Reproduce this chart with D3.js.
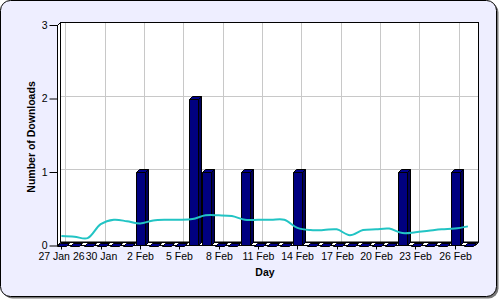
<!DOCTYPE html>
<html>
<head>
<meta charset="utf-8">
<script src="https://cdn.jsdelivr.net/npm/d3@7"></script>
<style>
  body { margin: 0; background: #fff; }
  svg text { font-family: "Liberation Sans", Arial, sans-serif; }
</style>
</head>
<body>
<div id="chart"></div>
<script>
// Daily values
const days = [
  "2026-01-27", "2026-01-28", "2026-01-29", "2026-01-30", "2026-01-31",
  "2026-02-01", "2026-02-02", "2026-02-03", "2026-02-04", "2026-02-05",
  "2026-02-06", "2026-02-07", "2026-02-08", "2026-02-09", "2026-02-10",
  "2026-02-11", "2026-02-12", "2026-02-13", "2026-02-14", "2026-02-15",
  "2026-02-16", "2026-02-17", "2026-02-18", "2026-02-19", "2026-02-20",
  "2026-02-21", "2026-02-22", "2026-02-23", "2026-02-24", "2026-02-25",
  "2026-02-26", "2026-02-27"
];
const downloads = [
  0, 0, 0, 0, 0, 0, 1, 0, 0, 0,
  2, 1, 0, 0, 1, 0, 0, 0, 1, 0,
  0, 0, 0, 0, 0, 0, 1, 0, 0, 0,
  1, 0
];
const trend = [
  0.13, 0.12, 0.10, 0.29, 0.35, 0.33, 0.30, 0.34, 0.35, 0.35,
  0.36, 0.41, 0.41, 0.40, 0.35, 0.35, 0.35, 0.35, 0.24, 0.21,
  0.21, 0.22, 0.14, 0.21, 0.22, 0.23, 0.17, 0.18, 0.20, 0.22,
  0.23, 0.26
];
const xTickDays = [
  "2026-01-27", "2026-01-30", "2026-02-02", "2026-02-05", "2026-02-08",
  "2026-02-11", "2026-02-14", "2026-02-17", "2026-02-20", "2026-02-23",
  "2026-02-26"
];
const xTickLabels = [
  "27 Jan 26", "30 Jan", "2 Feb", "5 Feb", "8 Feb", "11 Feb",
  "14 Feb", "17 Feb", "20 Feb", "23 Feb", "26 Feb"
];
const yTicks = [0, 1, 2, 3];

const parseDay = d3.timeParse("%Y-%m-%d");
const data = days.map((d, i) => ({ day: parseDay(d), n: downloads[i], avg: trend[i] }));

const W = 500, H = 300;
const depth = 3;     // 3D offset of the back wall
const barW = 9;
const pLeft = 57, pRight = 475, pTop = 25, pBottom = 245.5;

const svg = d3.select("#chart").append("svg")
  .attr("width", W)
  .attr("height", H);

// outer frame with shadow
svg.append("rect")
  .attr("x", 2.5).attr("y", 2.5)
  .attr("width", 496).attr("height", 296)
  .attr("rx", 10)
  .attr("fill", "#777");
svg.append("rect")
  .attr("x", 0.5).attr("y", 0.5)
  .attr("width", 496).attr("height", 296)
  .attr("rx", 10)
  .attr("fill", "#eeeeff")
  .attr("stroke", "#000");

let x = d3.scaleTime()
  .domain([new Date(2026, 0, 26, 16), new Date(2026, 1, 27, 13)])
  .range([pLeft, pRight]);
let y = d3.scaleLinear().domain([0, 3]).range([pBottom, pTop]);

// back wall
svg.append("rect")
  .attr("x", pLeft + depth + 0.5)
  .attr("y", pTop - depth)
  .attr("width", pRight - pLeft)
  .attr("height", pBottom - pTop)
  .attr("fill", "#fff");

// grid on back wall
let grid = svg.append("g").attr("stroke", "#c8c8c8").attr("stroke-width", 1);
xTickDays.forEach(d => {
  let gx = Math.round(x(parseDay(d))) + 4.5;
  grid.append("line")
    .attr("x1", gx).attr("x2", gx)
    .attr("y1", pTop - depth).attr("y2", pBottom - depth);
});
yTicks.slice(1, 3).forEach(v => {
  let gy = Math.round(y(v) - depth) + 0.5;
  grid.append("line")
    .attr("x1", pLeft + depth).attr("x2", pRight + depth)
    .attr("y1", gy).attr("y2", gy);
});

// wall outlines
let walls = svg.append("g").attr("stroke", "#000").attr("stroke-width", 1);
walls.append("rect")
  .attr("x", pLeft + depth + 0.5)
  .attr("y", pTop - depth + 0.5)
  .attr("width", pRight - pLeft)
  .attr("height", pBottom - pTop - 1)
  .attr("fill", "none");
// left side wall
walls.append("path")
  .attr("d", `M${pLeft + 0.5},${pTop + 0.5} L${pLeft + depth + 0.5},${pTop - depth + 0.5} L${pLeft + depth + 0.5},${pBottom - depth} L${pLeft + 0.5},${pBottom}Z`)
  .attr("fill", "#fff");
// floor
walls.append("path")
  .attr("d", `M${pLeft + 0.5},${pBottom} L${pRight + 0.5},${pBottom} L${pRight + depth + 0.5},${pBottom - depth} L${pLeft + depth + 0.5},${pBottom - depth}Z`)
  .attr("fill", "#fff");

// axes
let yAxis = svg.append("g")
  .attr("transform", "translate(" + (pLeft + 0.5) + ",0)")
  .call(d3.axisLeft(y).tickValues(yTicks).tickFormat(d3.format("d")).tickSize(8).tickPadding(2));
let xAxis = svg.append("g")
  .attr("transform", "translate(0," + pBottom + ")")
  .call(d3.axisBottom(x)
    .tickValues(xTickDays.map(parseDay))
    .tickFormat((d, i) => xTickLabels[i])
    .tickSize(4).tickPadding(3));
[yAxis, xAxis].forEach(a => {
  a.select(".domain").remove();
  a.selectAll("text").attr("font-size", "10.5px").attr("fill", "#000").attr("font-family", null);
  a.selectAll("line").attr("stroke", "#000");
});
xAxis.selectAll(".tick").attr("transform", d => "translate(" + (Math.round(x(d)) + 0.5) + ",0)");
svg.append("line")
  .attr("x1", pLeft + 0.5).attr("x2", pLeft + 0.5)
  .attr("y1", pTop).attr("y2", pBottom)
  .attr("stroke", "#000");

// 3D bars
let bars = svg.append("g").attr("stroke", "#000").attr("stroke-width", 1).attr("stroke-linejoin", "round");
data.forEach(d => {
  let x0 = Math.round(x(d.day) + 0.5 - barW / 2) + 0.5;
  let x1 = x0 + barW;
  let y0 = pBottom;
  let y1 = Math.round(y(d.n)) + 0.5;
  if (d.n > 0) {
    bars.append("rect")
      .attr("x", x0).attr("y", y1)
      .attr("width", barW).attr("height", y0 - y1)
      .attr("fill", "#000080");
    bars.append("path")
      .attr("d", `M${x1},${y1} L${x1 + depth},${y1 - depth} L${x1 + depth},${y0 - depth} L${x1},${y0}Z`)
      .attr("fill", "#00005a");
  }
  bars.append("path")
    .attr("d", `M${x0},${y1} L${x0 + depth},${y1 - depth} L${x1 + depth},${y1 - depth} L${x1},${y1}Z`)
    .attr("fill", "#000088");
});

// trend line
let line = d3.line()
  .x(d => x(d.day))
  .y(d => y(d.avg))
  .curve(d3.curveCatmullRom);
svg.append("path")
  .datum(data)
  .attr("d", line)
  .attr("fill", "none")
  .attr("stroke", "#22c4c4")
  .attr("stroke-width", 2);

// axis titles
svg.append("text")
  .attr("x", 265).attr("y", 276)
  .attr("text-anchor", "middle")
  .attr("font-size", "10.5px")
  .attr("font-weight", "bold")
  .text("Day");
svg.append("text")
  .attr("transform", "translate(35,137) rotate(-90)")
  .attr("text-anchor", "middle")
  .attr("font-size", "10.5px")
  .attr("font-weight", "bold")
  .text("Number of Downloads");
</script>
</body>
</html>
